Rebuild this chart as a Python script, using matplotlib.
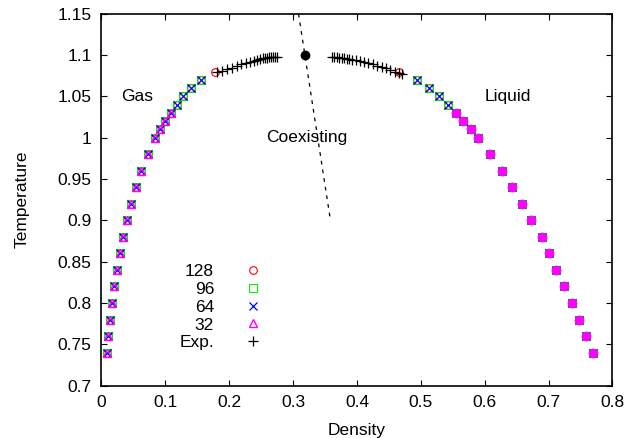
import matplotlib.pyplot as plt
import numpy as np

plt.rcParams['font.family'] = ['Liberation Sans', 'DejaVu Sans']
plt.rcParams['font.size'] = 12.5

# simulated coexistence points
T_gas = [0.74, 0.76, 0.78, 0.80, 0.82, 0.84, 0.86, 0.88, 0.90, 0.92, 0.94,
         0.96, 0.98, 1.00, 1.01, 1.02, 1.03, 1.04, 1.05, 1.06, 1.07]
rho_gas = [0.0091, 0.0106, 0.0133, 0.0164, 0.0200, 0.0243, 0.0285, 0.0336,
           0.0399, 0.0462, 0.0535, 0.0623, 0.0728, 0.0842, 0.0915, 0.0998,
           0.1083, 0.1177, 0.1270, 0.1400, 0.1557]
T_liq = T_gas
rho_liq = [0.7696, 0.7593, 0.7477, 0.7367, 0.7237, 0.7123, 0.7008, 0.6890,
           0.6717, 0.6576, 0.6420, 0.6263, 0.6090, 0.5890, 0.5782, 0.5662,
           0.5548, 0.5427, 0.5286, 0.5130, 0.4933]

# N=128 reaches closer to the critical point
T_128_extra = [1.08, 1.08]
rho_128_extra = [0.1776, 0.4656]

# N=32 only up to T=1.03
n32 = 17

# experimental data
T_exp_gas = [1.079, 1.081, 1.083, 1.085, 1.087, 1.0887, 1.0903, 1.092, 1.0931,
             1.0944, 1.0952, 1.096, 1.0964, 1.0968, 1.0972, 1.0976, 1.098,
             1.098, 1.098]
rho_exp_gas = [0.1803, 0.1881, 0.1959, 0.2038, 0.2116, 0.2183, 0.2261, 0.2324,
               0.2387, 0.2438, 0.2480, 0.2523, 0.2559, 0.2595, 0.2626, 0.2657,
               0.2689, 0.2720, 0.2751]
T_exp_liq = [1.098, 1.0976, 1.0972, 1.0968, 1.0964, 1.096, 1.0956, 1.0952,
             1.0944, 1.0936, 1.0923, 1.0911, 1.0899, 1.0887, 1.0871, 1.0855,
             1.0838, 1.0819, 1.0798, 1.0783, 1.077]
rho_exp_liq = [0.3602, 0.3638, 0.3681, 0.3717, 0.3759, 0.3800, 0.3837, 0.3878,
               0.3925, 0.3983, 0.4045, 0.4113, 0.4175, 0.4244, 0.4316, 0.4385,
               0.4452, 0.4523, 0.4593, 0.4660, 0.4698]

# critical point and rectilinear diameter
rho_c, T_c = 0.3185, 1.10
rho_diam = [0.3085, 0.3585]
T_diam = [1.15, 0.90]

fig = plt.figure(figsize=(6.41, 4.38), dpi=100)
ax = fig.add_axes([0.1583, 0.1196, 0.7972, 0.8489])

ms = 5.5
rho_sim = rho_gas + rho_liq
T_sim = T_gas + T_liq

ax.plot(rho_sim + rho_128_extra, T_sim + T_128_extra, 'o', ls='none', ms=ms,
        mfc='none', mec='#ff0000', mew=0.8, label='128')
ax.plot(rho_sim, T_sim, 's', ls='none', ms=ms, mfc='none', mec='#00ee00',
        mew=0.8, label='96')
ax.plot(rho_sim, T_sim, 'x', ls='none', ms=ms, mec='#0000ff', mew=0.9,
        label='64')
ax.plot(rho_gas[:n32], T_gas[:n32], '^', ls='none', ms=ms, mfc='none',
        mec='#ff00ff', mew=1.0, label='32')
ax.plot(rho_liq[:n32], T_liq[:n32], 'o', ls='none', ms=6.5, mfc='#ff00ff',
        mec='#ff00ff', mew=0.5)
ax.plot(rho_exp_gas + rho_exp_liq, T_exp_gas + T_exp_liq, '+', ls='none',
        ms=7, mec='black', mew=0.9, label='Exp.')

ax.plot([rho_c], [T_c], 'o', color='black', ms=6)
ax.plot(rho_diam, T_diam, color='black', lw=0.9, ls=(0, (3, 4)))

ax.text(0.0555, 1.05, 'Gas', ha='center', va='center')
ax.text(0.6366, 1.05, 'Liquid', ha='center', va='center')
ax.text(0.322, 1.0, 'Coexisting', ha='center', va='center')

ax.set_xlim(0, 0.8)
ax.set_ylim(0.7, 1.15)
ax.set_xticks(np.arange(0, 0.81, 0.1))
ax.set_xticklabels(['0', '0.1', '0.2', '0.3', '0.4', '0.5', '0.6', '0.7', '0.8'])
yt = np.arange(0.7, 1.151, 0.05)
ax.set_yticks(yt)
ax.set_yticklabels(['0.7', '0.75', '0.8', '0.85', '0.9', '0.95', '1', '1.05',
                    '1.1', '1.15'])
ax.tick_params(direction='in', length=4, width=0.8, top=True, right=True,
               pad=7)
for s in ax.spines.values():
    s.set_linewidth(1.2)

ax.set_xlabel('Density', labelpad=9)
ax.set_ylabel('Temperature', labelpad=20)

ax.legend(loc='center', bbox_to_anchor=(0.2330, 0.2109), frameon=False,
          markerfirst=False, handlelength=1.0, handletextpad=1.75,
          labelspacing=0.15, borderpad=0)

fig.savefig('out.png', dpi=100)
